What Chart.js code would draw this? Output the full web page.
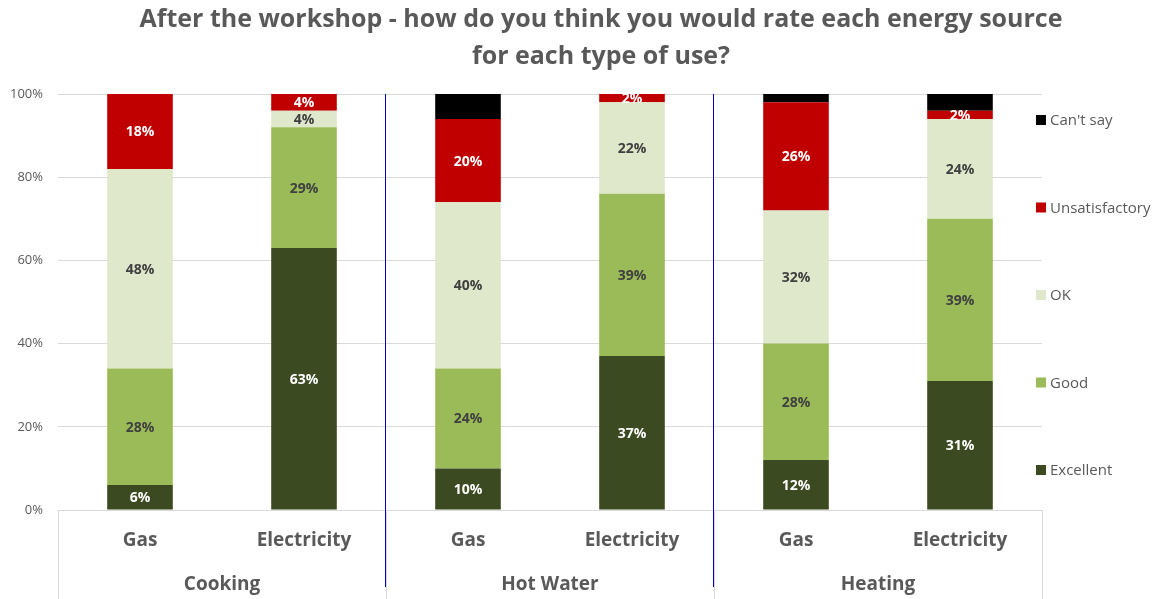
<!DOCTYPE html>
<html>
<head>
<meta charset="utf-8">
<title>After the workshop</title>
<script src="https://cdn.jsdelivr.net/npm/chart.js@4.4.1/dist/chart.umd.min.js"></script>
<style>
  html, body { margin: 0; padding: 0; background: #fff; }
  #wrap { width: 1157px; height: 599px; }
</style>
</head>
<body>
<div id="wrap"><canvas id="ratingsChart"></canvas></div>
<script>
// energy source of each bar, and the use each pair belongs to
var sources = ['Gas', 'Electricity', 'Gas', 'Electricity', 'Gas', 'Electricity'];
var uses = ['Cooking', 'Hot Water', 'Heating'];

// share of answers (%) per rating
var excellent = [6, 63, 10, 37, 12, 31];
var good = [28, 29, 24, 39, 28, 39];
var ok = [48, 4, 40, 22, 32, 24];
var unsatisfactory = [18, 4, 20, 2, 26, 2];
var cantSay = [0, 0, 6, 0, 2, 4];

var yTicks = [0, 20, 40, 60, 80, 100];
var titleLines = [
    'After the workshop - how do you think you would rate each energy source',
    'for each type of use?'
];

var FONT = '"Open Sans", Lato, sans-serif';
var GREY = '#595959';

// labels inside each bar segment (skipped for zero and for "Can't say")
var valueLabels = {
    id: 'valueLabels',
    afterDatasetsDraw: function (chart) {
        var ctx = chart.ctx;
        ctx.save();
        ctx.font = 'bold 14px ' + FONT;
        ctx.textAlign = 'center';
        ctx.textBaseline = 'middle';
        chart.data.datasets.forEach(function (ds, i) {
            if (!ds.labelColor) return;
            var meta = chart.getDatasetMeta(i);
            meta.data.forEach(function (bar, j) {
                var v = ds.data[j];
                if (!v) return;
                ctx.fillStyle = ds.labelColor;
                ctx.fillText(v + '%', bar.x, (bar.y + bar.base) / 2 + 1);
            });
        });
        ctx.restore();
    }
};

// title, group labels, separators and the legend on the right
var decorations = {
    id: 'decorations',
    afterDraw: function (chart) {
        var ctx = chart.ctx;
        var area = chart.chartArea;
        var x = chart.scales.x;
        var bottom = chart.height;
        var step = (area.right - area.left) / sources.length;

        ctx.save();

        // title
        ctx.fillStyle = GREY;
        ctx.font = 'bold 25px ' + FONT;
        ctx.textAlign = 'center';
        ctx.textBaseline = 'middle';
        ctx.fillText(titleLines[0], 601, 20);
        ctx.fillText(titleLines[1], 601, 57);

        // grey frame under the axis
        ctx.strokeStyle = '#d9d9d9';
        ctx.lineWidth = 1;
        for (var g = 0; g <= uses.length; g++) {
            var gx = Math.round(area.left + g * step * 2) + 0.5;
            ctx.beginPath();
            ctx.moveTo(gx, area.bottom);
            ctx.lineTo(gx, bottom);
            ctx.stroke();
        }

        // blue dividers between uses
        ctx.strokeStyle = '#0000c0';
        for (var d = 1; d < uses.length; d++) {
            var dx = Math.round(area.left + d * step * 2) - 0.5;
            ctx.beginPath();
            ctx.moveTo(dx, area.top);
            ctx.lineTo(dx, 587);
            ctx.stroke();
        }

        // use names under each pair of bars
        ctx.fillStyle = GREY;
        ctx.font = 'bold 19px ' + FONT;
        uses.forEach(function (u, k) {
            var cx = (x.getPixelForValue(k * 2) + x.getPixelForValue(k * 2 + 1)) / 2;
            ctx.fillText(u, cx, 585);
        });

        // legend, top entry first
        ctx.font = '15px ' + FONT;
        ctx.textAlign = 'left';
        var sets = chart.data.datasets.slice().reverse();
        sets.forEach(function (ds, k) {
            var ly = area.top + 26 + k * 87.5;
            ctx.fillStyle = ds.backgroundColor;
            ctx.fillRect(1036, ly - 5, 10, 10);
            ctx.fillStyle = GREY;
            ctx.fillText(ds.label, 1050, ly + 1);
        });

        ctx.restore();
    }
};

var ctx = document.getElementById('ratingsChart').getContext('2d');
var ratingsChart = new Chart(ctx, {
    type: 'bar',
    data: {
        labels: sources,
        datasets: [
            { label: 'Excellent', data: excellent, backgroundColor: '#3b4a20', labelColor: '#ffffff' },
            { label: 'Good', data: good, backgroundColor: '#9bbb59', labelColor: '#404040' },
            { label: 'OK', data: ok, backgroundColor: '#dfe8cb', labelColor: '#404040' },
            { label: 'Unsatisfactory', data: unsatisfactory, backgroundColor: '#c00000', labelColor: '#ffffff' },
            { label: "Can't say", data: cantSay, backgroundColor: '#000000' }
        ]
    },
    options: {
        responsive: true,
        maintainAspectRatio: false,
        animation: false,
        layout: { padding: { top: 94, right: 115, bottom: 0, left: 0 } },
        datasets: {
            bar: { categoryPercentage: 1, barPercentage: 0.4, borderWidth: 0 }
        },
        plugins: {
            legend: { display: false },
            title: { display: false },
            tooltip: { enabled: false }
        },
        scales: {
            x: {
                stacked: true,
                grid: { display: false, drawTicks: false },
                border: { display: false },
                ticks: {
                    color: GREY,
                    padding: 19,
                    font: { family: FONT, size: 19, weight: 'bold' }
                },
                afterFit: function (scale) { scale.height = 89; }
            },
            y: {
                stacked: true,
                min: 0,
                max: 100,
                grid: { color: '#d9d9d9', drawTicks: false },
                border: { display: false },
                afterBuildTicks: function (scale) {
                    scale.ticks = yTicks.map(function (v) { return { value: v }; });
                },
                ticks: {
                    color: GREY,
                    padding: 15,
                    font: { family: FONT, size: 13 },
                    callback: function (v) { return v + '%'; }
                },
                afterFit: function (scale) { scale.width = 58; }
            }
        }
    },
    plugins: [valueLabels, decorations]
});
</script>
</body>
</html>
